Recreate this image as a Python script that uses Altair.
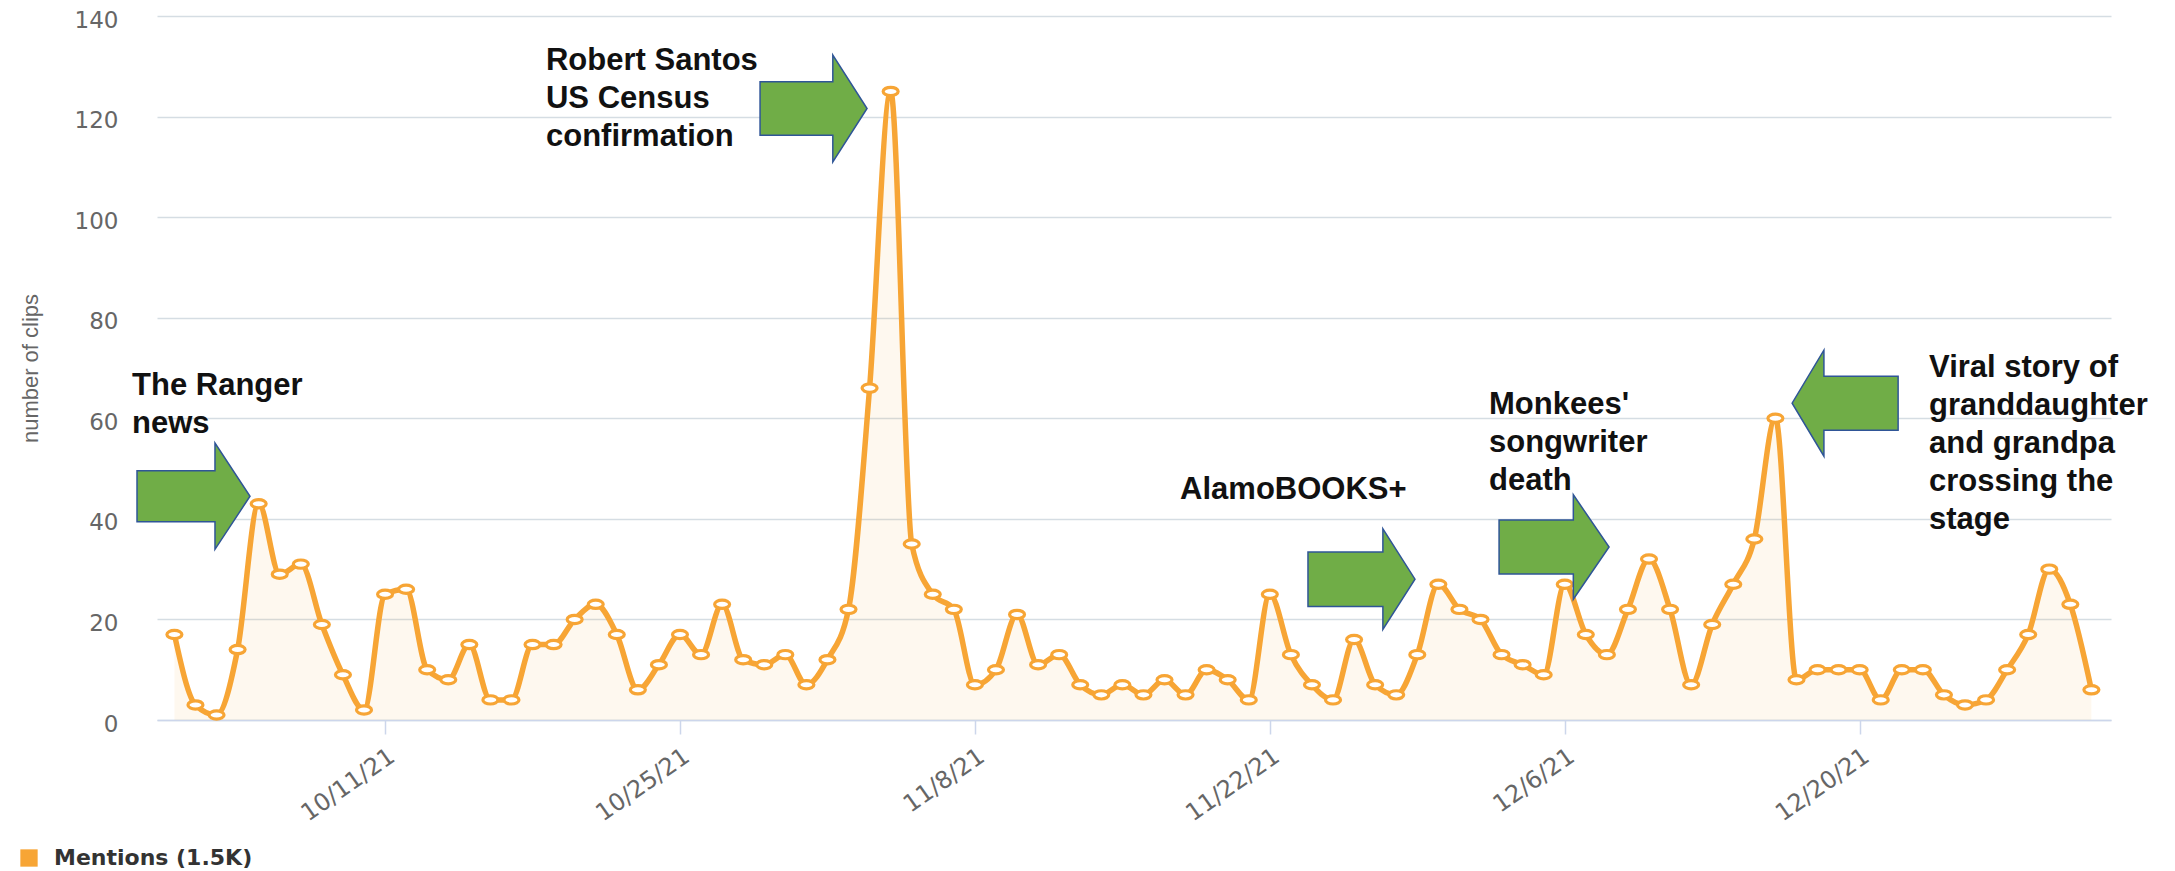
import altair as alt
import pandas as pd

# ---- data -------------------------------------------------------------
dates = pd.date_range("2021-10-01", "2021-12-31", freq="D").strftime("%Y-%m-%dT00:00").tolist()

mentions = [
    # October
    17, 3, 1, 14, 43, 29, 31, 19, 9, 2,
    25, 26, 10, 8, 15, 4, 4, 15, 15, 20,
    23, 17, 6, 11, 17, 13, 23, 12, 11, 13, 7,
    # November
    12, 22, 66, 125, 35, 25, 22, 7, 10, 21,
    11, 13, 7, 5, 7, 5, 8, 5, 10, 8,
    4, 25, 13, 7, 4, 16, 7, 5, 13, 27,
    # December
    22, 20, 13, 11, 9, 27, 17, 13, 22, 32,
    22, 7, 19, 27, 36, 60, 8, 10, 10, 10,
    4, 10, 10, 5, 3, 4, 10, 17, 30, 23, 6,
]

series_name = ["Mentions (1.5K)"] * len(dates)

y_ticks = [0, 20, 40, 60, 80, 100, 120, 140]
x_tick_dates = [(2021, 10, 11), (2021, 10, 25), (2021, 11, 8),
                (2021, 11, 22), (2021, 12, 6), (2021, 12, 20)]

# annotation texts (positions given in data units: date, clips)
note_text = [
    "The Ranger\nnews",
    "Robert Santos\nUS Census\nconfirmation",
    "AlamoBOOKS+",
    "Monkees'\nsongwriter\ndeath",
    "Viral story of\ngranddaughter\nand grandpa\ncrossing the\nstage",
]
note_x = ["2021-09-28T23:45", "2021-10-18T15:20", "2021-11-17T17:45",
          "2021-12-02T09:40", "2021-12-23T07:00"]
note_y = [64.6, 129.2, 43.9, 60.8, 68.2]

# block arrows
arrow_x = ["2021-10-01T21:46", "2021-10-31T08:10", "2021-11-26T08:25",
           "2021-12-05T11:50", "2021-12-19T07:25"]
arrow_y = [44.5, 121.6, 28.0, 34.4, 63.0]
arrow_len = [113, 107, 107, 110, 106]
arrow_shape = [
    "M-1,-0.45L0.38,-0.45L0.38,-0.94L1,0L0.38,0.94L0.38,0.45L-1,0.45Z",
    "M-1,-0.5L0.36,-0.5L0.36,-1L1,0L0.36,1L0.36,0.5L-1,0.5Z",
    "M-1,-0.51L0.4,-0.51L0.4,-0.94L1,0L0.4,0.94L0.4,0.51L-1,0.51Z",
    "M-1,-0.49L0.35,-0.49L0.35,-0.95L1,0L0.35,0.95L0.35,0.49L-1,0.49Z",
    "M1,-0.51L-0.4,-0.51L-0.4,-1L-1,0L-0.4,1L-0.4,0.51L1,0.51Z",
]

# ---- tables -----------------------------------------------------------
df = pd.DataFrame({"date": dates, "value": mentions, "series": series_name})
notes = pd.DataFrame({"date": note_x, "value": note_y, "label": note_text})
arrows = pd.DataFrame({"date": arrow_x, "value": arrow_y,
                       "size": [l * l for l in arrow_len], "shape": arrow_shape})

ORANGE = "#f7a535"
AXIS_BLUE = "#ccd6eb"

x_enc = alt.X(
    "date:T",
    scale=alt.Scale(domain=[
        alt.DateTime(year=2021, month=9, date=30, hours=4, minutes=10),
        alt.DateTime(year=2021, month=12, date=31, hours=22, minutes=20),
    ]),
    axis=alt.Axis(
        values=[alt.DateTime(year=y, month=m, date=d) for (y, m, d) in x_tick_dates],
        format="%-m/%-d/%y",
        labelAngle=-35,
        labelAlign="right",
        labelBaseline="top",
        labelPadding=10,
        labelFont="DejaVu Sans",
        labelFontSize=24,
        labelColor="#666666",
        tickSize=14,
        tickColor=AXIS_BLUE,
        tickWidth=1.5,
        domainColor=AXIS_BLUE,
        domainWidth=1.5,
        grid=False,
        title=None,
    ),
)

y_enc = alt.Y(
    "value:Q",
    scale=alt.Scale(domain=[0, 140], nice=False),
    axis=alt.Axis(
        values=y_ticks,
        grid=True,
        gridColor="#d5dde3",
        gridWidth=1.3,
        domain=False,
        ticks=False,
        labelPadding=39,
        labelOffset=4,
        labelFont="DejaVu Sans",
        labelFontSize=23,
        labelColor="#666666",
        title="number of clips",
        titleFont="Liberation Sans",
        titleFontSize=22,
        titleFontWeight="normal",
        titleColor="#666666",
        titleX=-127,
        titleY=352,
        titleAlign="center",
        titleBaseline="middle",
    ),
)

area = alt.Chart(df).mark_area(interpolate="monotone", opacity=0.08).encode(
    x=x_enc,
    y=y_enc,
    fill=alt.Fill(
        "series:N",
        scale=alt.Scale(range=[ORANGE]),
        legend=alt.Legend(
            title=None,
            orient="none",
            legendX=-139,
            legendY=831,
            symbolType="square",
            symbolSize=300,
            symbolOpacity=1,
            symbolStrokeWidth=0,
            labelFont="DejaVu Sans",
            labelFontWeight="bold",
            labelFontSize=22,
            labelColor="#333333",
            labelOffset=14,
            labelLimit=0,
        ),
    ),
)

line = alt.Chart(df).mark_line(
    interpolate="monotone", color=ORANGE, strokeWidth=5.5
).encode(x="date:T", y="value:Q")

points = alt.Chart(df).mark_point(
    shape="M-1,0A1,0.55,0,1,0,1,0A1,0.55,0,1,0,-1,0Z",
    size=225,
    filled=True,
    fill="white",
    stroke=ORANGE,
    strokeWidth=3.2,
    opacity=1,
).encode(x="date:T", y="value:Q")

arrow_layer = alt.Chart(arrows).mark_point(
    filled=True, fill="#70ad47", stroke="#2f5597", strokeWidth=1.5, opacity=1
).encode(
    x="date:T",
    y="value:Q",
    shape=alt.Shape("shape:N", scale=None),
    size=alt.Size("size:Q", scale=None),
)

text_layer = alt.Chart(notes).mark_text(
    align="left",
    baseline="alphabetic",
    font="Liberation Sans",
    fontWeight="bold",
    fontSize=31,
    lineHeight=38,
    lineBreak="\n",
    color="#111111",
).encode(x="date:T", y="value:Q", text="label:N")

chart = (
    alt.layer(area, line, points, arrow_layer, text_layer)
    .properties(
        width=1954,
        height=704,
        autosize=alt.AutoSizeParams(type="none"),
        padding={"left": 149, "top": 8, "right": 40, "bottom": 150},
        background="white",
    )
    .configure_view(stroke=None)
)

chart.save("out.html", embed_options={"renderer": "svg", "actions": False})
